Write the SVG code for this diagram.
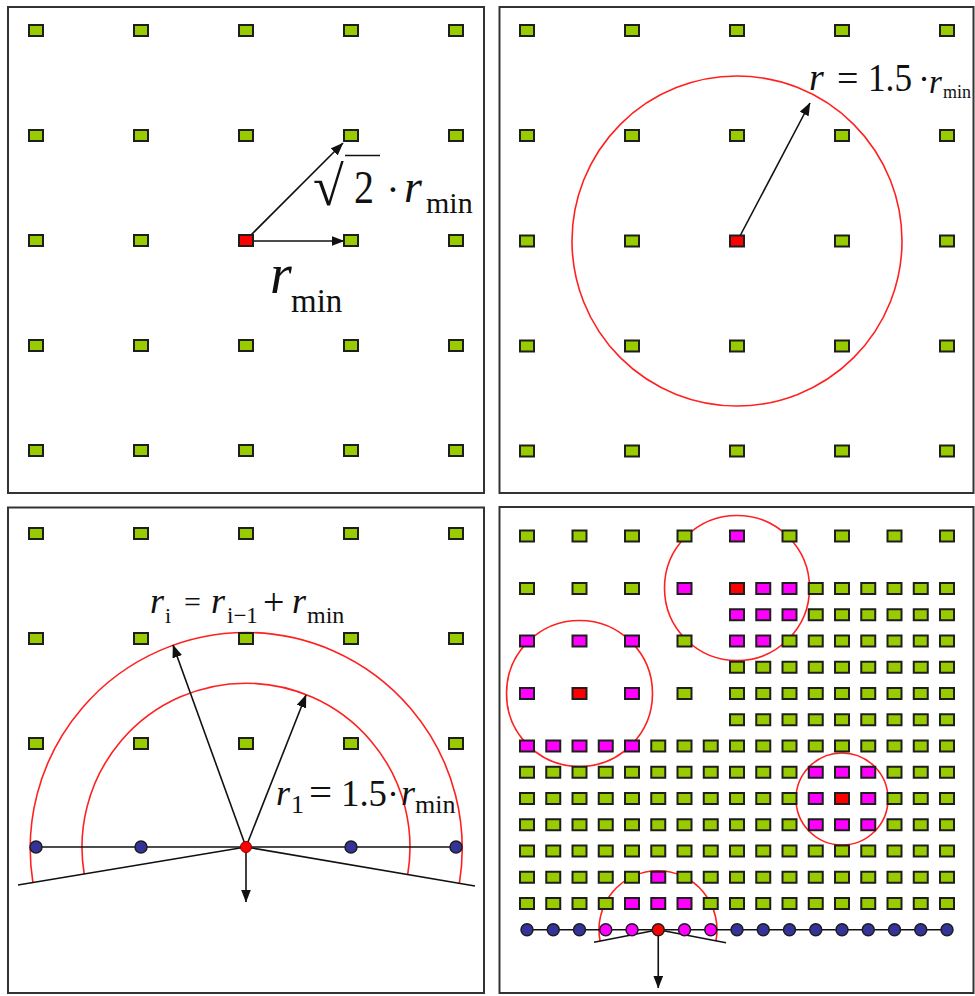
<svg xmlns="http://www.w3.org/2000/svg" xmlns:xlink="http://www.w3.org/1999/xlink" width="975" height="996" viewBox="0 0 975 996">
<style>
.frame{fill:none;stroke:#333;stroke-width:2}
.g{fill:#99cc00}
.m{fill:#ff00ff}
.r{fill:#ff0000}
.b{fill:#333399}
.sq{stroke:#1e1e1e;stroke-width:2}
.dot{stroke:#1e1e1e;stroke-width:1.5}
.circ{fill:none;stroke:#ff2020;stroke-width:1.6}
.ln{fill:none;stroke:#111;stroke-width:1.6}
.arr{fill:none;stroke:#111;stroke-width:1.6;marker-end:url(#ah)}
.lbl text{font-family:'Liberation Serif','Times New Roman',serif;fill:#111}
.it{font-style:italic}
</style>
<defs>
<rect id="sq" x="-7" y="-5.5" width="14" height="11"/>
<circle id="dt" cx="0" cy="0" r="6"/>
<marker id="ah" markerUnits="userSpaceOnUse" markerWidth="13" markerHeight="10" refX="12.5" refY="5" orient="auto">
<path d="M0,0 L13,5 L0,10 z" fill="#111"/>
</marker>
</defs>
<rect width="975" height="996" fill="#fff"/>

<g id="frames">
<rect class="frame" x="8" y="7" width="476" height="486"/>
<rect class="frame" x="499.5" y="7" width="474" height="486"/>
<rect class="frame" x="8" y="507.5" width="476" height="485.5"/>
<rect class="frame" x="499.5" y="507" width="474" height="486"/>
</g>

<g id="circles">
<circle class="circ" cx="737" cy="241" r="165"/>
<path class="circ" d="M32.9 882.5 A216 216 0 1 1 459.4 883.2"/>
<path class="circ" d="M84.2 874 A164 164 0 1 1 407.7 874.5"/>
<circle class="circ" cx="737" cy="588" r="72.5"/>
<circle class="circ" cx="579.5" cy="693.5" r="73"/>
<circle class="circ" cx="842" cy="799" r="46"/>
<path class="circ" d="M600.1 941.2 A59 59 0 1 1 715.9 941"/>
</g>

<g id="connectors">
<line class="arr" x1="252" y1="241" x2="344" y2="241"/>
<line class="arr" x1="250" y1="236" x2="343" y2="143"/>
<line class="arr" x1="740" y1="236" x2="810" y2="103"/>
<line class="ln" x1="36" y1="847" x2="456" y2="847"/>
<line class="ln" x1="246" y1="847" x2="18" y2="885"/>
<line class="ln" x1="246" y1="847" x2="475" y2="886"/>
<line class="arr" x1="246" y1="847" x2="173" y2="645"/>
<line class="arr" x1="246" y1="847" x2="306" y2="695"/>
<line class="arr" x1="246" y1="847" x2="246" y2="902"/>
<line class="ln" x1="527" y1="929.75" x2="947" y2="929.75"/>
<line class="ln" x1="658.25" y1="929.75" x2="594" y2="942.3"/>
<line class="ln" x1="658.25" y1="929.75" x2="726" y2="942.7"/>
<line class="arr" x1="658.25" y1="929.75" x2="658.25" y2="988"/>
</g>

<g id="panel-top-left" class="sq">
<use href="#sq" class="g" x="36" y="30.5"/><use href="#sq" class="g" x="141" y="30.5"/><use href="#sq" class="g" x="246" y="30.5"/><use href="#sq" class="g" x="351" y="30.5"/><use href="#sq" class="g" x="456" y="30.5"/>
<use href="#sq" class="g" x="36" y="135.5"/><use href="#sq" class="g" x="141" y="135.5"/><use href="#sq" class="g" x="246" y="135.5"/><use href="#sq" class="g" x="351" y="135.5"/><use href="#sq" class="g" x="456" y="135.5"/>
<use href="#sq" class="g" x="36" y="240.5"/><use href="#sq" class="g" x="141" y="240.5"/><use href="#sq" class="r" x="246" y="240.5"/><use href="#sq" class="g" x="351" y="240.5"/><use href="#sq" class="g" x="456" y="240.5"/>
<use href="#sq" class="g" x="36" y="345.5"/><use href="#sq" class="g" x="141" y="345.5"/><use href="#sq" class="g" x="246" y="345.5"/><use href="#sq" class="g" x="351" y="345.5"/><use href="#sq" class="g" x="456" y="345.5"/>
<use href="#sq" class="g" x="36" y="450.5"/><use href="#sq" class="g" x="141" y="450.5"/><use href="#sq" class="g" x="246" y="450.5"/><use href="#sq" class="g" x="351" y="450.5"/><use href="#sq" class="g" x="456" y="450.5"/>
</g>

<g id="panel-top-right" class="sq">
<use href="#sq" class="g" x="527" y="30.5"/><use href="#sq" class="g" x="632" y="30.5"/><use href="#sq" class="g" x="737" y="30.5"/><use href="#sq" class="g" x="842" y="30.5"/><use href="#sq" class="g" x="947" y="30.5"/>
<use href="#sq" class="g" x="527" y="135.5"/><use href="#sq" class="g" x="632" y="135.5"/><use href="#sq" class="g" x="737" y="135.5"/><use href="#sq" class="g" x="842" y="135.5"/><use href="#sq" class="g" x="947" y="135.5"/>
<use href="#sq" class="g" x="527" y="241"/><use href="#sq" class="g" x="632" y="241"/><use href="#sq" class="r" x="737" y="241"/><use href="#sq" class="g" x="842" y="241"/><use href="#sq" class="g" x="947" y="241"/>
<use href="#sq" class="g" x="527" y="346"/><use href="#sq" class="g" x="632" y="346"/><use href="#sq" class="g" x="737" y="346"/><use href="#sq" class="g" x="842" y="346"/><use href="#sq" class="g" x="947" y="346"/>
<use href="#sq" class="g" x="527" y="451"/><use href="#sq" class="g" x="632" y="451"/><use href="#sq" class="g" x="737" y="451"/><use href="#sq" class="g" x="842" y="451"/><use href="#sq" class="g" x="947" y="451"/>
</g>

<g id="panel-bottom-left" class="sq">
<use href="#sq" class="g" x="36" y="533.5"/><use href="#sq" class="g" x="141" y="533.5"/><use href="#sq" class="g" x="246" y="533.5"/><use href="#sq" class="g" x="351" y="533.5"/><use href="#sq" class="g" x="456" y="533.5"/>
<use href="#sq" class="g" x="36" y="638.5"/><use href="#sq" class="g" x="141" y="638.5"/><use href="#sq" class="g" x="246" y="638.5"/><use href="#sq" class="g" x="351" y="638.5"/><use href="#sq" class="g" x="456" y="638.5"/>
<use href="#sq" class="g" x="36" y="743.5"/><use href="#sq" class="g" x="141" y="743.5"/><use href="#sq" class="g" x="246" y="743.5"/><use href="#sq" class="g" x="351" y="743.5"/><use href="#sq" class="g" x="456" y="743.5"/>
<g class="dot">
<use href="#dt" class="b" x="36" y="847"/><use href="#dt" class="b" x="141" y="847"/><use href="#dt" class="b" x="351" y="847"/><use href="#dt" class="b" x="456" y="847"/>
<circle cx="246" cy="847" r="5.5" fill="#ff0000" stroke="#8a0000" stroke-width="1"/>
</g>
</g>

<g id="panel-bottom-right" class="sq">
<use href="#sq" class="g" x="527" y="536"/><use href="#sq" class="g" x="579.5" y="536"/><use href="#sq" class="g" x="632" y="536"/><use href="#sq" class="g" x="684.5" y="536"/><use href="#sq" class="m" x="737" y="536"/><use href="#sq" class="g" x="789.5" y="536"/><use href="#sq" class="g" x="842" y="536"/><use href="#sq" class="g" x="894.5" y="536"/><use href="#sq" class="g" x="947" y="536"/>
<use href="#sq" class="g" x="527" y="588.5"/><use href="#sq" class="g" x="579.5" y="588.5"/><use href="#sq" class="g" x="632" y="588.5"/><use href="#sq" class="m" x="684.5" y="588.5"/><use href="#sq" class="r" x="737" y="588.5"/><use href="#sq" class="m" x="763.25" y="588.5"/><use href="#sq" class="m" x="789.5" y="588.5"/><use href="#sq" class="g" x="815.75" y="588.5"/><use href="#sq" class="g" x="842" y="588.5"/><use href="#sq" class="g" x="868.25" y="588.5"/><use href="#sq" class="g" x="894.5" y="588.5"/><use href="#sq" class="g" x="920.75" y="588.5"/><use href="#sq" class="g" x="947" y="588.5"/>
<use href="#sq" class="m" x="737" y="614.75"/><use href="#sq" class="m" x="763.25" y="614.75"/><use href="#sq" class="m" x="789.5" y="614.75"/><use href="#sq" class="g" x="815.75" y="614.75"/><use href="#sq" class="g" x="842" y="614.75"/><use href="#sq" class="g" x="868.25" y="614.75"/><use href="#sq" class="g" x="894.5" y="614.75"/><use href="#sq" class="g" x="920.75" y="614.75"/><use href="#sq" class="g" x="947" y="614.75"/>
<use href="#sq" class="m" x="527" y="641"/><use href="#sq" class="m" x="579.5" y="641"/><use href="#sq" class="m" x="632" y="641"/><use href="#sq" class="g" x="684.5" y="641"/><use href="#sq" class="m" x="737" y="641"/><use href="#sq" class="m" x="763.25" y="641"/><use href="#sq" class="g" x="789.5" y="641"/><use href="#sq" class="g" x="815.75" y="641"/><use href="#sq" class="g" x="842" y="641"/><use href="#sq" class="g" x="868.25" y="641"/><use href="#sq" class="g" x="894.5" y="641"/><use href="#sq" class="g" x="920.75" y="641"/><use href="#sq" class="g" x="947" y="641"/>
<use href="#sq" class="g" x="737" y="667.25"/><use href="#sq" class="g" x="763.25" y="667.25"/><use href="#sq" class="g" x="789.5" y="667.25"/><use href="#sq" class="g" x="815.75" y="667.25"/><use href="#sq" class="g" x="842" y="667.25"/><use href="#sq" class="g" x="868.25" y="667.25"/><use href="#sq" class="g" x="894.5" y="667.25"/><use href="#sq" class="g" x="920.75" y="667.25"/><use href="#sq" class="g" x="947" y="667.25"/>
<use href="#sq" class="m" x="527" y="693.5"/><use href="#sq" class="r" x="579.5" y="693.5"/><use href="#sq" class="m" x="632" y="693.5"/><use href="#sq" class="g" x="684.5" y="693.5"/><use href="#sq" class="g" x="737" y="693.5"/><use href="#sq" class="g" x="763.25" y="693.5"/><use href="#sq" class="g" x="789.5" y="693.5"/><use href="#sq" class="g" x="815.75" y="693.5"/><use href="#sq" class="g" x="842" y="693.5"/><use href="#sq" class="g" x="868.25" y="693.5"/><use href="#sq" class="g" x="894.5" y="693.5"/><use href="#sq" class="g" x="920.75" y="693.5"/><use href="#sq" class="g" x="947" y="693.5"/>
<use href="#sq" class="g" x="737" y="719.75"/><use href="#sq" class="g" x="763.25" y="719.75"/><use href="#sq" class="g" x="789.5" y="719.75"/><use href="#sq" class="g" x="815.75" y="719.75"/><use href="#sq" class="g" x="842" y="719.75"/><use href="#sq" class="g" x="868.25" y="719.75"/><use href="#sq" class="g" x="894.5" y="719.75"/><use href="#sq" class="g" x="920.75" y="719.75"/><use href="#sq" class="g" x="947" y="719.75"/>
<use href="#sq" class="m" x="527" y="746"/><use href="#sq" class="m" x="553.25" y="746"/><use href="#sq" class="m" x="579.5" y="746"/><use href="#sq" class="m" x="605.75" y="746"/><use href="#sq" class="m" x="632" y="746"/><use href="#sq" class="g" x="658.25" y="746"/><use href="#sq" class="g" x="684.5" y="746"/><use href="#sq" class="g" x="710.75" y="746"/><use href="#sq" class="g" x="737" y="746"/><use href="#sq" class="g" x="763.25" y="746"/><use href="#sq" class="g" x="789.5" y="746"/><use href="#sq" class="g" x="815.75" y="746"/><use href="#sq" class="g" x="842" y="746"/><use href="#sq" class="g" x="868.25" y="746"/><use href="#sq" class="g" x="894.5" y="746"/><use href="#sq" class="g" x="920.75" y="746"/><use href="#sq" class="g" x="947" y="746"/>
<use href="#sq" class="g" x="527" y="772.25"/><use href="#sq" class="g" x="553.25" y="772.25"/><use href="#sq" class="g" x="579.5" y="772.25"/><use href="#sq" class="g" x="605.75" y="772.25"/><use href="#sq" class="g" x="632" y="772.25"/><use href="#sq" class="g" x="658.25" y="772.25"/><use href="#sq" class="g" x="684.5" y="772.25"/><use href="#sq" class="g" x="710.75" y="772.25"/><use href="#sq" class="g" x="737" y="772.25"/><use href="#sq" class="g" x="763.25" y="772.25"/><use href="#sq" class="g" x="789.5" y="772.25"/><use href="#sq" class="m" x="815.75" y="772.25"/><use href="#sq" class="m" x="842" y="772.25"/><use href="#sq" class="m" x="868.25" y="772.25"/><use href="#sq" class="g" x="894.5" y="772.25"/><use href="#sq" class="g" x="920.75" y="772.25"/><use href="#sq" class="g" x="947" y="772.25"/>
<use href="#sq" class="g" x="527" y="798.5"/><use href="#sq" class="g" x="553.25" y="798.5"/><use href="#sq" class="g" x="579.5" y="798.5"/><use href="#sq" class="g" x="605.75" y="798.5"/><use href="#sq" class="g" x="632" y="798.5"/><use href="#sq" class="g" x="658.25" y="798.5"/><use href="#sq" class="g" x="684.5" y="798.5"/><use href="#sq" class="g" x="710.75" y="798.5"/><use href="#sq" class="g" x="737" y="798.5"/><use href="#sq" class="g" x="763.25" y="798.5"/><use href="#sq" class="g" x="789.5" y="798.5"/><use href="#sq" class="m" x="815.75" y="798.5"/><use href="#sq" class="r" x="842" y="798.5"/><use href="#sq" class="m" x="868.25" y="798.5"/><use href="#sq" class="g" x="894.5" y="798.5"/><use href="#sq" class="g" x="920.75" y="798.5"/><use href="#sq" class="g" x="947" y="798.5"/>
<use href="#sq" class="g" x="527" y="824.75"/><use href="#sq" class="g" x="553.25" y="824.75"/><use href="#sq" class="g" x="579.5" y="824.75"/><use href="#sq" class="g" x="605.75" y="824.75"/><use href="#sq" class="g" x="632" y="824.75"/><use href="#sq" class="g" x="658.25" y="824.75"/><use href="#sq" class="g" x="684.5" y="824.75"/><use href="#sq" class="g" x="710.75" y="824.75"/><use href="#sq" class="g" x="737" y="824.75"/><use href="#sq" class="g" x="763.25" y="824.75"/><use href="#sq" class="g" x="789.5" y="824.75"/><use href="#sq" class="m" x="815.75" y="824.75"/><use href="#sq" class="m" x="842" y="824.75"/><use href="#sq" class="m" x="868.25" y="824.75"/><use href="#sq" class="g" x="894.5" y="824.75"/><use href="#sq" class="g" x="920.75" y="824.75"/><use href="#sq" class="g" x="947" y="824.75"/>
<use href="#sq" class="g" x="527" y="851"/><use href="#sq" class="g" x="553.25" y="851"/><use href="#sq" class="g" x="579.5" y="851"/><use href="#sq" class="g" x="605.75" y="851"/><use href="#sq" class="g" x="632" y="851"/><use href="#sq" class="g" x="658.25" y="851"/><use href="#sq" class="g" x="684.5" y="851"/><use href="#sq" class="g" x="710.75" y="851"/><use href="#sq" class="g" x="737" y="851"/><use href="#sq" class="g" x="763.25" y="851"/><use href="#sq" class="g" x="789.5" y="851"/><use href="#sq" class="g" x="815.75" y="851"/><use href="#sq" class="g" x="842" y="851"/><use href="#sq" class="g" x="868.25" y="851"/><use href="#sq" class="g" x="894.5" y="851"/><use href="#sq" class="g" x="920.75" y="851"/><use href="#sq" class="g" x="947" y="851"/>
<use href="#sq" class="g" x="527" y="877.25"/><use href="#sq" class="g" x="553.25" y="877.25"/><use href="#sq" class="g" x="579.5" y="877.25"/><use href="#sq" class="g" x="605.75" y="877.25"/><use href="#sq" class="g" x="632" y="877.25"/><use href="#sq" class="m" x="658.25" y="877.25"/><use href="#sq" class="g" x="684.5" y="877.25"/><use href="#sq" class="g" x="710.75" y="877.25"/><use href="#sq" class="g" x="737" y="877.25"/><use href="#sq" class="g" x="763.25" y="877.25"/><use href="#sq" class="g" x="789.5" y="877.25"/><use href="#sq" class="g" x="815.75" y="877.25"/><use href="#sq" class="g" x="842" y="877.25"/><use href="#sq" class="g" x="868.25" y="877.25"/><use href="#sq" class="g" x="894.5" y="877.25"/><use href="#sq" class="g" x="920.75" y="877.25"/><use href="#sq" class="g" x="947" y="877.25"/>
<use href="#sq" class="g" x="527" y="903.5"/><use href="#sq" class="g" x="553.25" y="903.5"/><use href="#sq" class="g" x="579.5" y="903.5"/><use href="#sq" class="g" x="605.75" y="903.5"/><use href="#sq" class="m" x="632" y="903.5"/><use href="#sq" class="m" x="658.25" y="903.5"/><use href="#sq" class="m" x="684.5" y="903.5"/><use href="#sq" class="g" x="710.75" y="903.5"/><use href="#sq" class="g" x="737" y="903.5"/><use href="#sq" class="g" x="763.25" y="903.5"/><use href="#sq" class="g" x="789.5" y="903.5"/><use href="#sq" class="g" x="815.75" y="903.5"/><use href="#sq" class="g" x="842" y="903.5"/><use href="#sq" class="g" x="868.25" y="903.5"/><use href="#sq" class="g" x="894.5" y="903.5"/><use href="#sq" class="g" x="920.75" y="903.5"/><use href="#sq" class="g" x="947" y="903.5"/>
<g class="dot">
<use href="#dt" class="b" x="527" y="929.75"/><use href="#dt" class="b" x="553.25" y="929.75"/><use href="#dt" class="b" x="579.5" y="929.75"/><use href="#dt" class="m" x="605.75" y="929.75"/><use href="#dt" class="m" x="632" y="929.75"/><use href="#dt" class="r" x="658.25" y="929.75"/><use href="#dt" class="m" x="684.5" y="929.75"/><use href="#dt" class="m" x="710.75" y="929.75"/><use href="#dt" class="b" x="737" y="929.75"/><use href="#dt" class="b" x="763.25" y="929.75"/><use href="#dt" class="b" x="789.5" y="929.75"/><use href="#dt" class="b" x="815.75" y="929.75"/><use href="#dt" class="b" x="842" y="929.75"/><use href="#dt" class="b" x="868.25" y="929.75"/><use href="#dt" class="b" x="894.5" y="929.75"/><use href="#dt" class="b" x="920.75" y="929.75"/><use href="#dt" class="b" x="947" y="929.75"/>
</g>
</g>

<g id="labels" class="lbl" font-family="'Liberation Serif', 'Times New Roman', serif">
<text x="313" y="205" font-size="56">√</text>
<line x1="345" y1="155.5" x2="380" y2="155.5" stroke="#111" stroke-width="1.5"/>
<text x="354" y="203" font-size="47" textLength="20" lengthAdjust="spacingAndGlyphs">2</text>
<text x="393" y="203" font-size="40" text-anchor="middle">·</text>
<text class="it" x="404" y="202" font-size="46">r</text>
<text x="426" y="213" font-size="30">min</text>
<text class="it" x="270" y="293" font-size="56">r</text>
<text x="291" y="311.5" font-size="33">min</text>
<text class="it" x="809" y="90" font-size="38">r</text>
<text x="837" y="91" font-size="38">=</text>
<text x="868" y="91" font-size="40" textLength="44" lengthAdjust="spacingAndGlyphs">1.5</text>
<text x="924" y="91" font-size="36" text-anchor="middle">·</text>
<text class="it" x="929" y="93" font-size="33">r</text>
<text x="943" y="98" font-size="18" textLength="28" lengthAdjust="spacingAndGlyphs">min</text>
<text class="it" x="150" y="613" font-size="36">r</text>
<text x="165" y="622.7" font-size="22">i</text>
<text x="184" y="612" font-size="30">=</text>
<text class="it" x="211" y="613" font-size="36">r</text>
<text x="227" y="623" font-size="23">i−1</text>
<text x="263" y="615" font-size="38">+</text>
<text class="it" x="292" y="613" font-size="36">r</text>
<text x="307" y="622.7" font-size="24">min</text>
<text class="it" x="276" y="805" font-size="36">r</text>
<text x="291" y="813" font-size="26">1</text>
<text x="309" y="806" font-size="41">=</text>
<text x="341" y="806" font-size="38" textLength="46" lengthAdjust="spacingAndGlyphs">1.5</text>
<text x="393" y="806" font-size="36" text-anchor="middle">·</text>
<text class="it" x="401" y="805" font-size="36">r</text>
<text x="415" y="813" font-size="26">min</text>
</g>
</svg>
